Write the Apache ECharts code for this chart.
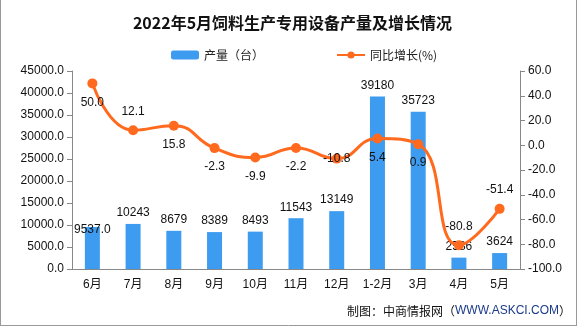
<!DOCTYPE html>
<html><head><meta charset="utf-8">
<script src="https://cdn.jsdelivr.net/npm/echarts@6/dist/echarts.min.js"></script>
<style>html,body{margin:0;padding:0;background:#fff}#c{width:585px;height:327px}</style>
</head><body><div id="c"></div>
<script>
const categories = ['6月','7月','8月','9月','10月','11月','12月','1-2月','3月','4月','5月'];
const output = [9537, 10243, 8679, 8389, 8493, 11543, 13149, 39180, 35723, 2586, 3624];
const growth = [50.0, 12.1, 15.8, -2.3, -9.9, -2.2, -10.8, 5.4, 0.9, -80.8, -51.4];
const leftTicks = {min: 0, max: 45000, interval: 5000};
const rightTicks = {min: -100, max: 60, interval: 20};

const lineLabelPos = ['bottom','top','bottom','bottom','bottom','bottom','inside','bottom','bottom','top','top'];
const barLabelOffsetY = [14,0,0,0,0,0,0,0,0,0,0];

const font = '"Liberation Sans", "Noto Sans CJK SC", sans-serif';
const chart = echarts.init(document.getElementById('c'));
chart.setOption({
  animation: false,
  textStyle: {fontFamily: font},
  title: {
    text: '2022年5月饲料生产专用设备产量及增长情况',
    left: 'center', top: 10,
    textStyle: {fontSize: 16, fontWeight: 'bold', color: '#111', fontFamily: '"Noto Sans CJK SC", sans-serif'}
  },
  legend: {
    left: 166, top: 44, itemGap: 72, itemWidth: 28, itemHeight: 9,
    textStyle: {fontSize: 12, color: '#222', fontFamily: '"Noto Sans CJK SC", sans-serif'},
    data: ['产量（台）', '同比增长(%)']
  },
  grid: {left: 72, right: 65, top: 71, bottom: 58},
  xAxis: {
    type: 'category', data: categories,
    axisLine: {lineStyle: {color: '#888'}},
    axisTick: {lineStyle: {color: '#888'}},
    axisLabel: {color: '#111', fontSize: 12, margin: 10, interval: 0}
  },
  yAxis: [
    {type: 'value', min: leftTicks.min, max: leftTicks.max, interval: leftTicks.interval,
     axisLine: {show: true, lineStyle: {color: '#888'}},
     axisTick: {show: true, lineStyle: {color: '#888'}},
     splitLine: {show: false},
     axisLabel: {color: '#111', fontSize: 12, formatter: v => v.toFixed(1)}},
    {type: 'value', min: rightTicks.min, max: rightTicks.max, interval: rightTicks.interval,
     axisLine: {show: true, lineStyle: {color: '#888'}},
     axisTick: {show: true, lineStyle: {color: '#888'}},
     splitLine: {show: false},
     axisLabel: {color: '#111', fontSize: 12, formatter: v => v.toFixed(1)}}
  ],
  series: [
    {name: '产量（台）', type: 'bar', barWidth: 15, yAxisIndex: 0,
     itemStyle: {color: '#3d9cf0'},
     data: output.map((v, i) => ({value: v, label: {offset: [0, barLabelOffsetY[i]]}})),
     label: {show: true, position: 'top', color: '#111', fontSize: 12,
       formatter: p => p.dataIndex === 0 ? p.value.toFixed(1) : String(p.value)}},
    {name: '同比增长(%)', type: 'line', yAxisIndex: 1, smooth: true,
     symbol: 'circle', symbolSize: 10,
     lineStyle: {color: '#ff6a1f', width: 3},
     itemStyle: {color: '#ff6a1f'},
     data: growth.map((v, i) => ({value: v, label: {position: lineLabelPos[i]}})),
     label: {show: true, color: '#111', fontSize: 12, distance: 8,
       formatter: p => p.value.toFixed(1)}}
  ],
  graphic: [
    {type: 'text', right: 14, top: 305,
     style: {text: '制图：中商情报网（{b|WWW.ASKCI.COM}）', fontSize: 12, fill: '#111',
       fontFamily: '"Noto Sans CJK SC", sans-serif',
       rich: {b: {fontSize: 12, fill: '#1a3a8a', fontFamily: font}}}},
    {type: 'line', shape: {x1: 0.5, y1: 0, x2: 0.5, y2: 326}, style: {stroke: '#999', lineWidth: 1}},
    {type: 'line', shape: {x1: 576.5, y1: 0, x2: 576.5, y2: 326}, style: {stroke: '#999', lineWidth: 1}},
    {type: 'line', shape: {x1: 0, y1: 325.5, x2: 577, y2: 325.5}, style: {stroke: '#999', lineWidth: 1}}
  ]
});
</script></body></html>
